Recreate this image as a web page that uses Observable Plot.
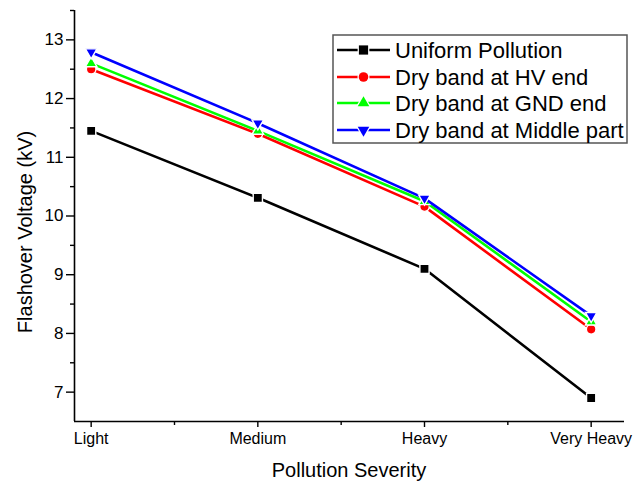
<!DOCTYPE html>
<html>
<head>
<meta charset="utf-8">
<script src="https://cdn.jsdelivr.net/npm/d3@7"></script>
<script src="https://cdn.jsdelivr.net/npm/@observablehq/plot@0.6"></script>
<style>
  body { margin: 0; background: #fff; }
  #chart svg { display: block; }
</style>
</head>
<body>
<div id="chart"></div>
<script>
// ---- data ----
const categories = ["Light", "Medium", "Heavy", "Very Heavy"];
const seriesNames = ["Uniform Pollution", "Dry band at HV end", "Dry band at GND end", "Dry band at Middle part"];
const uniformPollution = [11.45, 10.31, 9.1, 6.9];
const dryBandHV = [12.5, 11.4, 10.16, 8.07];
const dryBandGND = [12.6, 11.45, 10.25, 8.2];
const dryBandMiddle = [12.79, 11.58, 10.3, 8.3];
const seriesColors = ["#000000", "#ff0000", "#00ff00", "#0000ff"];
const yMajorTicks = [7, 8, 9, 10, 11, 12, 13];
const yMinorTicks = [7.5, 8.5, 9.5, 10.5, 11.5, 12.5, 13.5];
const xMajorTicks = [0, 1, 2, 3];
const xMinorTicks = [0.5, 1.5, 2.5];
const xTitle = "Pollution Severity";
const yTitle = "Flashover Voltage (kV)";

// ---- build table ----
const seriesValues = [uniformPollution, dryBandHV, dryBandGND, dryBandMiddle];
const table = [];
seriesNames.forEach((name, s) => {
  seriesValues[s].forEach((v, i) => table.push({series: name, i, category: categories[i], value: v}));
});

const triangleDown = {
  draw(context, size) {
    const y = -Math.sqrt(size / (Math.sqrt(3) * 3));
    const s3 = Math.sqrt(3);
    context.moveTo(0, -y * 2);
    context.lineTo(-s3 * y, y);
    context.lineTo(s3 * y, y);
    context.closePath();
  }
};
const symbols = [d3.symbolSquare, d3.symbolCircle, d3.symbolTriangle, triangleDown];
const radii = [5.2, 4.8, 4.3, 4.3];

const FONT = "'Liberation Sans', Arial, Helvetica, sans-serif";

const marks = [];
seriesNames.forEach((name, s) => {
  const rows = table.filter(d => d.series === name);
  marks.push(Plot.line(rows, {x: "i", y: "value", stroke: "series", strokeWidth: 2.6}));
  marks.push(Plot.dot(rows, {x: "i", y: "value", fill: "series", symbol: symbols[s], r: radii[s], stroke: "white", strokeWidth: 1.4}));
});

const plot = Plot.plot({
  width: 644,
  height: 482,
  marginLeft: 74,
  marginRight: 20,
  marginTop: 10,
  marginBottom: 61,
  style: {fontFamily: FONT, fontSize: "16px", color: "#000", background: "#fff"},
  x: {type: "linear", domain: [-0.1, 3.2]},
  y: {domain: [6.5, 13.5]},
  color: {domain: seriesNames, range: seriesColors},
  marks: [
    Plot.axisY(yMajorTicks, {tickSize: 8, tickPadding: 3, strokeWidth: 1.4, label: null, fontSize: 17, tickFormat: d => String(d)}),
    Plot.axisY(yMinorTicks, {tickSize: 4, tickFormat: () => "", strokeWidth: 1.4, label: null}),
    Plot.axisX(xMajorTicks, {tickSize: 6, tickPadding: 5, strokeWidth: 1.4, tickFormat: i => categories[i], label: null, fontSize: 16}),
    Plot.axisX(xMinorTicks, {tickSize: 4, tickFormat: () => "", strokeWidth: 1.4, label: null}),
    Plot.ruleX([-0.1], {strokeWidth: 1.6}),
    Plot.ruleY([6.5], {strokeWidth: 1.6}),
    ...marks
  ]
});

document.getElementById("chart").appendChild(plot);

// ---- titles & legend ----
const svg = d3.select(plot);
svg.append("text")
  .attr("transform", "translate(25,232) rotate(-90)")
  .attr("text-anchor", "middle")
  .attr("dominant-baseline", "central")
  .attr("font-family", FONT)
  .attr("font-size", 20)
  .attr("fill", "#000")
  .text(yTitle);
svg.append("text")
  .attr("x", 349)
  .attr("y", 477)
  .attr("text-anchor", "middle")
  .attr("font-family", FONT)
  .attr("font-size", 20)
  .attr("fill", "#000")
  .text(xTitle);

const lg = svg.append("g");
lg.append("rect")
  .attr("x", 333).attr("y", 35).attr("width", 294).attr("height", 108)
  .attr("fill", "white").attr("stroke", "#555").attr("stroke-width", 1.5);
const rowY = [50, 77, 103, 130];
seriesNames.forEach((name, s) => {
  const y = rowY[s];
  lg.append("line")
    .attr("x1", 337).attr("x2", 390).attr("y1", y).attr("y2", y)
    .attr("stroke", seriesColors[s]).attr("stroke-width", 2.6);
  lg.append("path")
    .attr("transform", `translate(363.5,${y})`)
    .attr("d", d3.symbol(symbols[s], Math.PI * radii[s] * radii[s])())
    .attr("fill", seriesColors[s]).attr("stroke", "white").attr("stroke-width", 2.5)
    .attr("paint-order", "stroke");
  lg.append("text")
    .attr("x", 395).attr("y", y)
    .attr("text-anchor", "start")
    .attr("dominant-baseline", "central")
    .attr("font-family", FONT)
    .attr("font-size", 22)
    .attr("fill", "#000")
    .text(name);
});
</script>
</body>
</html>
